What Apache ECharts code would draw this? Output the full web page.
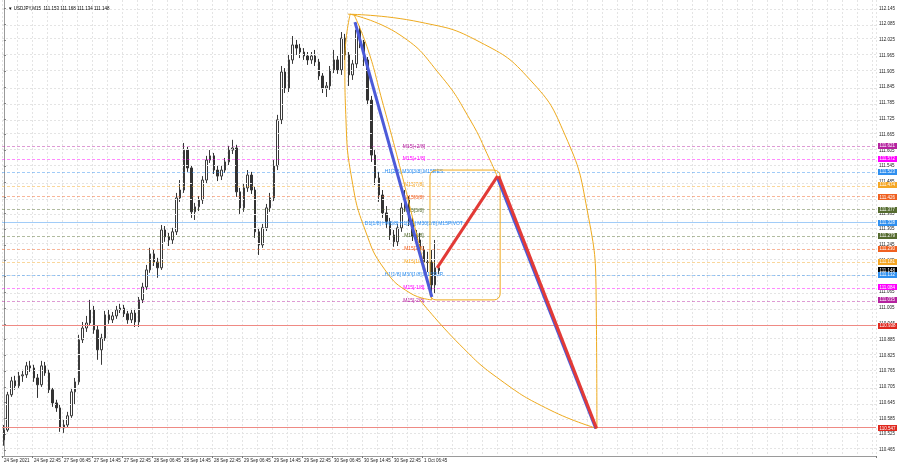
<!DOCTYPE html>
<html><head><meta charset="utf-8">
<script src="https://cdn.jsdelivr.net/npm/echarts@6/dist/echarts.min.js"></script>
<style>html,body{margin:0;padding:0;background:#fff}#c{width:900px;height:468px}</style>
</head><body><div id="c"></div>
<script>
// ---------- data ----------
const titleText = '\u25BC USDJPY,M15  111.153 111.168 111.134 111.148';
const tickLabels = ['24 Sep 2021','24 Sep 22:45','27 Sep 06:45','27 Sep 14:45','27 Sep 22:45','28 Sep 06:45','28 Sep 14:45','28 Sep 22:45','29 Sep 06:45','29 Sep 14:45','29 Sep 22:45','30 Sep 06:45','30 Sep 14:45','30 Sep 22:45','1 Oct 06:45'];
const priceTicks = [112.145,112.085,112.025,111.965,111.905,111.845,111.785,111.725,111.665,111.605,111.545,111.485,111.425,111.365,111.305,111.245,111.185,111.125,111.065,111.005,110.945,110.885,110.825,110.765,110.705,110.645,110.585,110.525,110.465];
// hourly candles [open, close, low, high]
const candles = [
[110.503,110.541,110.481,110.560],[110.541,110.675,110.534,110.686],[110.675,110.728,110.667,110.743],[110.728,110.709,110.694,110.747],
[110.709,110.747,110.701,110.762],[110.747,110.751,110.724,110.770],[110.751,110.785,110.739,110.800],[110.785,110.777,110.762,110.804],
[110.777,110.739,110.724,110.789],[110.739,110.713,110.663,110.754],[110.713,110.785,110.705,110.804],[110.785,110.758,110.747,110.800],
[110.758,110.694,110.682,110.770],[110.694,110.644,110.629,110.701],[110.644,110.625,110.610,110.656],[110.625,110.549,110.534,110.637],
[110.549,110.560,110.530,110.579],[110.560,110.595,110.549,110.610],[110.595,110.686,110.587,110.701],[110.686,110.724,110.637,110.739],
[110.724,110.884,110.713,110.903],[110.884,110.929,110.872,110.952],[110.929,110.948,110.914,110.975],[110.948,110.998,110.937,111.036],
[110.998,110.922,110.907,111.013],[110.922,110.846,110.808,110.937],[110.846,110.891,110.789,110.907],[110.891,110.979,110.880,110.994],
[110.979,110.960,110.945,110.998],[110.960,110.975,110.948,110.990],[110.975,110.998,110.964,111.013],[110.998,111.005,110.986,111.021],
[111.005,110.983,110.971,111.017],[110.983,110.960,110.945,110.994],[110.960,110.986,110.948,111.002],[110.986,110.952,110.933,111.002],
[110.952,111.036,110.933,111.047],[111.036,111.085,111.024,111.101],[111.085,111.150,111.074,111.169],[111.150,111.211,111.139,111.234],
[111.211,111.180,111.165,111.226],[111.180,111.158,111.120,111.196],[111.158,111.302,111.150,111.321],[111.302,111.276,111.257,111.317],
[111.276,111.264,111.241,111.291],[111.264,111.295,111.249,111.310],[111.295,111.424,111.283,111.443],[111.424,111.454,111.409,111.492],
[111.454,111.606,111.443,111.633],[111.606,111.538,111.523,111.618],[111.538,111.371,111.348,111.549],[111.371,111.390,111.340,111.405],
[111.390,111.416,111.374,111.431],[111.416,111.492,111.401,111.507],[111.492,111.568,111.477,111.584],[111.568,111.584,111.557,111.606],
[111.584,111.530,111.515,111.595],[111.530,111.507,111.488,111.546],[111.507,111.530,111.492,111.546],[111.530,111.561,111.519,111.576],
[111.561,111.606,111.549,111.622],[111.606,111.614,111.591,111.645],[111.614,111.447,111.428,111.626],[111.447,111.386,111.363,111.462],
[111.386,111.462,111.371,111.477],[111.462,111.511,111.447,111.530],[111.511,111.454,111.439,111.523],[111.454,111.295,111.272,111.466],
[111.295,111.245,111.207,111.310],[111.245,111.310,111.234,111.325],[111.310,111.386,111.298,111.401],[111.386,111.424,111.371,111.443],
[111.424,111.546,111.412,111.568],[111.546,111.721,111.530,111.740],[111.721,111.903,111.705,111.926],[111.903,111.842,111.823,111.918],
[111.842,111.949,111.827,111.968],[111.949,112.006,111.934,112.040],[112.006,111.994,111.968,112.025],[111.994,111.979,111.956,112.010],
[111.979,111.964,111.949,111.994],[111.964,111.949,111.930,111.979],[111.949,111.964,111.934,111.979],[111.964,111.941,111.926,111.987],
[111.941,111.888,111.873,111.953],[111.888,111.842,111.823,111.899],[111.842,111.850,111.808,111.865],[111.850,111.911,111.835,111.926],
[111.911,111.949,111.899,111.987],[111.949,111.911,111.896,111.964],[111.911,112.032,111.892,112.055],[112.032,111.968,111.949,112.048],
[111.968,111.892,111.850,111.979],[111.892,111.934,111.873,111.949],[111.934,112.063,111.918,112.089],[112.063,112.017,111.994,112.078],
[112.017,111.949,111.926,112.025],[111.949,111.796,111.777,111.960],[111.796,111.587,111.561,111.812],[111.587,111.500,111.473,111.606],
[111.500,111.435,111.409,111.523],[111.435,111.367,111.348,111.454],[111.367,111.333,111.310,111.393],[111.333,111.283,111.264,111.348],
[111.283,111.257,111.238,111.302],[111.257,111.310,111.241,111.325],[111.310,111.386,111.295,111.405],[111.386,111.416,111.371,111.454],
[111.416,111.333,111.317,111.431],[111.333,111.279,111.260,111.348],[111.279,111.264,111.241,111.302],[111.264,111.226,111.207,111.291],
[111.226,111.180,111.158,111.241],[111.180,111.178,111.142,111.219],[111.180,111.093,111.047,111.226],[111.093,111.158,111.062,111.264],
[111.158,111.148,111.134,111.168]
];
const totalBars = 233; // hourly slots incl. empty future space

// Murrey levels
const levelPrices = [111.621,111.572,111.523,111.474,111.426,111.377,111.328,111.279,111.230,111.181,111.132,111.084,111.035];
const levelNames = ['M15[+2/8]','M15[+1/8]','H1[2/8] M30[3/8] M15RES','M15[7/8]','M15[6/8]','M15[5/8]','D1[1/8] H4[6/8] H1[1/8] M30[2/8] M15PIVOT','M15[3/8]','M15[2/8]','M15[1/8]','H1[1/8] M30[1/8] M15SUP','M15[-1/8]','M15[-2/8]'];
const levelColors = ['#b5229f','#ff00ff','#2f8fef','#f5a623','#f06020','#556b2f','#2f8fef','#556b2f','#f06020','#f5a623','#2f8fef','#ff00ff','#b5229f'];
const levelSolid = [false,false,false,false,false,false,true,false,false,false,false,false,false];
const redLevels = [110.938, 110.547];
const labelSlot = 109.3;

// right-axis price boxes
const boxPrices = [111.621,111.572,111.523,111.474,111.426,111.377,111.328,111.279,111.230,111.181,111.148,111.132,111.084,111.035,110.938,110.547];
const boxColors = ['#b5229f','#ff00ff','#2f8fef','#f5a623','#f06020','#556b2f','#2f8fef','#556b2f','#f06020','#f5a623','#000000','#2f8fef','#ff00ff','#b5229f','#e0281e','#e0281e'];

// drawings (slot index, price)
const blueLine1 = [[93.6,112.093],[114.1,111.047]];
const redLine1 = [[115.5,111.158],[131.6,111.507]];
const redLine2 = [[131.9,111.507],[158.0,110.547]];
const blueLine2 = [[131.6,111.500],[157.8,110.547]];
const boxRect = [[113.6,111.530],[132.3,111.036]];
const arcs = [
  [[91.7,112.123],[110.9,112.093],[126.9,112.017],[140.3,111.873],[149.6,111.663],[155.5,111.378],[157.9,111.036],[158.1,110.547]],
  [[92.3,112.123],[105.6,112.044],[116.3,111.892],[124.3,111.721],[129.6,111.568],[131.7,111.500]],
  [[92.3,112.123],[90.9,111.949],[91.2,111.721],[92.8,111.492],[96.3,111.302],[101.6,111.150],[108.3,111.062],[114.1,111.036]],
  [[93.3,112.123],[97.1,111.987],[100.8,111.796],[105.1,111.568],[109.1,111.340],[112.3,111.150],[114.1,111.036]],
  [[110.9,111.036],[121.6,110.865],[132.3,110.732],[145.6,110.617],[158.1,110.547]]
];

// ---------- chart ----------
const cats = Array.from({length: totalBars}, (_, i) => String(i));
const chart = echarts.init(document.getElementById('c'), null, {renderer: 'canvas'});
const FONT = 'Liberation Sans';
function lineSeries(data, color, width, z) {
  return {type: 'line', xAxisIndex: 1, yAxisIndex: 0, data: data, showSymbol: false, symbol: 'none',
    lineStyle: {color: color, width: width}, silent: true, z: z, animation: false};
}
const series = [
  {type: 'line', data: [], silent: true, z: 1,
   markLine: {silent: true, symbol: 'none', animation: false, label: {show: false},
     lineStyle: {color: '#e4e4e4', type: [2, 2], width: 1},
     data: priceTicks.map(p => ({yAxis: p}))}},
  {type: 'line', data: [], silent: true, z: 2,
   markLine: {silent: true, symbol: 'none', animation: false, label: {show: false},
     data: levelPrices.map((p, i) => ({yAxis: p, lineStyle: {color: levelColors[i], opacity: 0.45, width: 1, type: levelSolid[i] ? 'solid' : [3, 2]}}))}},
  {type: 'line', data: [], silent: true, z: 2, color: '#ef8a84',
   markLine: {silent: true, symbol: 'none', animation: false, label: {show: false},
     lineStyle: {color: '#ef8a84', width: 1, type: 'solid', opacity: 1},
     data: redLevels.map(p => ({yAxis: p}))}},
  {type: 'candlestick', data: candles, barWidth: 2, z: 3, animation: false,
   itemStyle: {color: '#ffffff', color0: '#333333', borderColor: '#3a3a3a', borderColor0: '#333333', borderWidth: 1}},
  {type: 'custom', xAxisIndex: 1, yAxisIndex: 0, z: 4, silent: true, animation: false,
   data: levelPrices.map((p, i) => [labelSlot, p, i]),
   renderItem: function (params, api) {
     const pt = api.coord([api.value(0), api.value(1)]);
     const i = api.value(2);
     return {type: 'text', x: pt[0], y: pt[1], style: {text: levelNames[i], fill: levelColors[i], font: '5px ' + FONT, align: 'center', verticalAlign: 'middle'}};
   }},
  {type: 'custom', xAxisIndex: 1, yAxisIndex: 0, z: 6, silent: true, animation: false,
   data: [[boxRect[0][0], boxRect[0][1], boxRect[1][0], boxRect[1][1]]],
   renderItem: function (params, api) {
     const a = api.coord([api.value(0), api.value(1)]);
     const b = api.coord([api.value(2), api.value(3)]);
     return {type: 'rect', shape: {x: a[0], y: a[1], width: b[0] - a[0], height: b[1] - a[1], r: 6},
       style: {fill: 'none', stroke: '#eeaa1e', lineWidth: 1}};
   }},
  lineSeries(blueLine1, '#4c5ad8', 3, 7),
  lineSeries(blueLine2, '#4c5ad8', 3, 7),
  lineSeries(redLine1, '#e23a36', 3, 8),
  lineSeries(redLine2, '#e23a36', 3, 8),
  {type: 'custom', xAxisIndex: 1, yAxisIndex: 0, z: 10, silent: true, animation: false, clip: false,
   data: boxPrices.map((p, i) => [0, p, i]),
   renderItem: function (params, api) {
     const pt = api.coord([0, api.value(1)]);
     const i = api.value(2);
     const x0 = params.coordSys.x + params.coordSys.width + 2;
     return {type: 'group', children: [
       {type: 'rect', shape: {x: x0, y: Math.round(pt[1]) - 3, width: 19, height: 6}, style: {fill: boxColors[i]}},
       {type: 'text', x: x0 + 1.5, y: pt[1], style: {text: boxPrices[i].toFixed(3), fill: '#fff', font: '4.5px ' + FONT, verticalAlign: 'middle'}}
     ]};
   }}
];
arcs.forEach(a => series.push(Object.assign(lineSeries(a, '#eeaa1e', 1, 5), {smooth: 0.5})));

chart.setOption({
  animation: false,
  backgroundColor: '#ffffff',
  title: {text: titleText, left: 3, top: 1, textStyle: {fontSize: 4.5, fontWeight: 'normal', color: '#000', fontFamily: FONT}},
  grid: {left: 2, right: 24, top: 0, bottom: 12, containLabel: false},
  xAxis: [
    {type: 'category', data: cats, boundaryGap: true,
     axisLine: {show: true, lineStyle: {color: '#9a9a9a'}},
     axisTick: {show: true, length: 2, interval: (i) => i % 8 === 0 && i / 8 < tickLabels.length, lineStyle: {color: '#777'}},
     axisLabel: {interval: 0, align: 'left', margin: 2, fontSize: 4.5, color: '#222', fontFamily: FONT,
       formatter: (v, i) => (i % 8 === 0 && i / 8 < tickLabels.length) ? tickLabels[i / 8] : ''},
     splitLine: {show: true, interval: (i) => i % 4 === 0, lineStyle: {color: '#e4e4e4', type: [2, 2]}}},
    {type: 'value', min: -0.5, max: totalBars - 0.5, show: false}
  ],
  yAxis: [{type: 'value', position: 'right', min: 110.442, max: 112.177, scale: true,
    axisLine: {show: true, lineStyle: {color: '#9a9a9a'}},
    axisTick: {show: true, length: 2, customValues: priceTicks, lineStyle: {color: '#777'}},
    axisLabel: {customValues: priceTicks, formatter: v => v.toFixed(3), fontSize: 4.5, margin: 3, color: '#222', fontFamily: FONT},
    splitLine: {show: false}}],
  series: series
});
</script></body></html>
